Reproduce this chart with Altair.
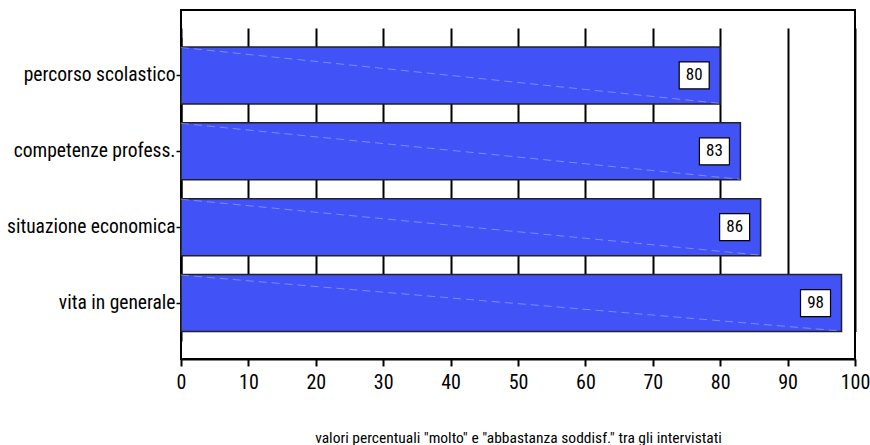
import altair as alt
import pandas as pd

categories = ["percorso scolastico", "competenze profess.", "situazione economica", "vita in generale"]
values = [80, 83, 86, 98]
x_ticks = [0, 10, 20, 30, 40, 50, 60, 70, 80, 90, 100]
axis_title = 'valori percentuali "molto" e "abbastanza soddisf." tra gli intervistati'

FONT = "Roboto Condensed, Liberation Sans Narrow, DejaVu Sans Condensed, sans-serif"

df = pd.DataFrame({"cat": categories, "val": values})

W, H = 674, 349

x_scale = alt.Scale(domain=[0, 100], nice=False, zero=True)
y_scale = alt.Scale(domain=categories, range=[27.5, 331], paddingInner=0.25, paddingOuter=0.125)

base = alt.Chart(df)

bars = base.mark_bar(color="#4152F7", stroke="#222222", strokeWidth=1.5).encode(
    x=alt.X(
        "val:Q",
        scale=x_scale,
        axis=alt.Axis(
            values=x_ticks,
            title=axis_title,
            titleFont=FONT,
            titleFontSize=15.5,
            titleFontWeight="normal",
            titleColor="#000",
            titlePadding=38,
            labelFont=FONT,
            labelFontSize=20,
            labelColor="#000",
            labelPadding=6,
            labelFlush=False,
            tickColor="#000",
            tickSize=7,
            tickWidth=2,
            domainColor="#000",
            domainWidth=2,
            grid=True,
            gridColor="#000",
            gridWidth=2,
            gridOpacity=1,
        ),
    ),
    y=alt.Y(
        "cat:N",
        scale=y_scale,
        sort=categories,
        axis=alt.Axis(
            title=None,
            labelFont=FONT,
            labelFontSize=19.5,
            labelColor="#000",
            labelPadding=1,
            tickColor="#000",
            tickSize=5,
            tickWidth=1.5,
            domainColor="#000",
            domainWidth=2,
            grid=False,
        ),
    ),
)

# faint diagonal streak across each bar
streak = base.mark_rule(
    color="#c8ccff", strokeWidth=1, opacity=0.45, strokeDash=[8, 5], yOffset=-28, y2Offset=28
).encode(
    x=alt.X("zero:Q", scale=x_scale),
    x2=alt.X2("val:Q"),
    y=alt.Y("cat:N", scale=y_scale, sort=categories),
    y2=alt.Y2("cat:N"),
).transform_calculate(zero="0")

boxes = base.mark_rect(
    fill="white", stroke="#000", strokeWidth=1.2, height=27, xOffset=-41, x2Offset=-11
).encode(
    x=alt.X("val:Q", scale=x_scale),
    x2=alt.X2("val:Q"),
    y=alt.Y("cat:N", scale=y_scale, sort=categories),
)

labels = base.mark_text(font=FONT, fontSize=17, color="#000", dx=-26, baseline="middle").encode(
    x=alt.X("val:Q", scale=x_scale),
    y=alt.Y("cat:N", scale=y_scale, sort=categories),
    text=alt.Text("val:Q"),
)

chart = (
    alt.layer(bars, streak, boxes, labels)
    .properties(
        width=W,
        height=H,
        autosize=alt.AutoSizeParams(type="none"),
        padding={"left": 181, "top": 10, "right": 15, "bottom": 86},
        background="white",
    )
    .configure_view(stroke="#000", strokeWidth=2)
)

chart.save("out.html", embed_options={"renderer": "svg", "actions": False})
